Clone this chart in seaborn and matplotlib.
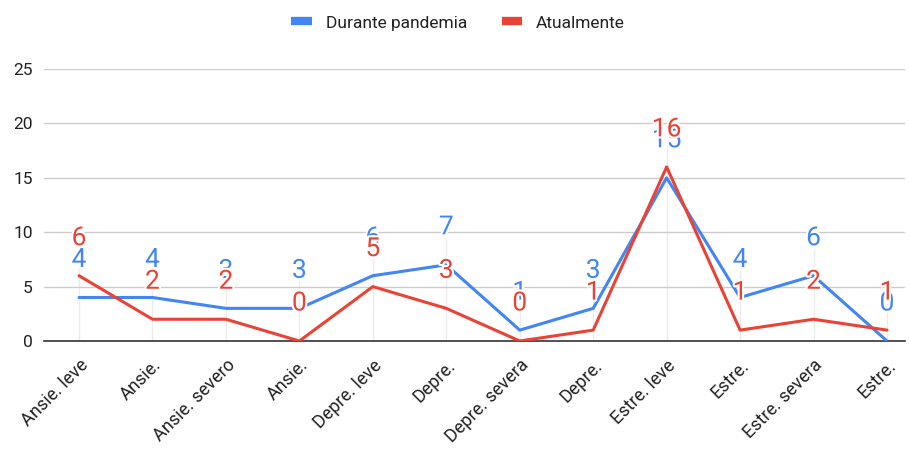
import matplotlib
matplotlib.use("Agg")
import matplotlib.pyplot as plt
import matplotlib.patheffects as pe
from matplotlib.lines import Line2D
import seaborn as sns
import pandas as pd

categorias = ["Ansie. leve", "Ansie.", "Ansie. severo", "Ansie.",
              "Depre. leve", "Depre.", "Depre. severa", "Depre.",
              "Estre. leve", "Estre.", "Estre. severa", "Estre."]
durante = [4, 4, 3, 3, 6, 7, 1, 3, 15, 4, 6, 0]
atual = [6, 2, 2, 0, 5, 3, 0, 1, 16, 1, 2, 1]
series = ["Durante pandemia", "Atualmente"]
cores = ["#4285F4", "#EA4335"]

sns.set_style("white")
plt.rcParams["font.family"] = ["Roboto", "DejaVu Sans"]

pos = list(range(len(categorias)))
df = pd.DataFrame({
    "pos": pos * 2,
    "valor": durante + atual,
    "serie": [series[0]] * len(pos) + [series[1]] * len(pos),
})

fig = plt.figure(figsize=(9.09, 4.53), dpi=100)
ax = fig.add_axes([44 / 909, 1 - 341 / 453, (905 - 44) / 909, (341 - 69) / 453])

# linhas guia claras
for p, a, b in zip(pos, durante, atual):
    ax.vlines(p, 0, max(a, b) + 2.5, color="#ececec", lw=1, zorder=0)

sns.lineplot(data=df, x="pos", y="valor", hue="serie", palette=cores,
             hue_order=series, linewidth=2.2, ax=ax, legend=False, zorder=3)

halo = [pe.withStroke(linewidth=3, foreground="white")]
for vals, cor in zip([durante, atual], cores):
    for p, v in zip(pos, vals):
        ax.annotate(str(v), (p, v), xytext=(0, 27), textcoords="offset points",
                    ha="center", va="center", fontsize=19, color=cor,
                    path_effects=halo, zorder=5)

ax.set_xlim(-0.477, 11.245)
ax.set_ylim(0, 25)
ax.set_yticks([0, 5, 10, 15, 20, 25])
ax.yaxis.grid(True, color="#cccccc", lw=1)
ax.set_axisbelow(True)
ax.set_xticks(pos)
ax.set_xticklabels(categorias, rotation=45, ha="right", rotation_mode="anchor",
                   fontsize=13, color="#222222")
ax.tick_params(axis="y", labelsize=12.5, labelcolor="#222222", length=0, pad=8)
ax.tick_params(axis="x", length=0, pad=11)
ax.set_xlabel("")
ax.set_ylabel("")
for s in ["top", "right", "left"]:
    ax.spines[s].set_visible(False)
ax.spines["bottom"].set_color("#333333")
ax.spines["bottom"].set_linewidth(1.2)

handles = [Line2D([0], [0], color=c, lw=6, solid_capstyle="butt") for c in cores]
fig.legend(handles, series, loc="center", bbox_to_anchor=(458 / 909, 1 - 23 / 453),
           ncol=2, frameon=False, fontsize=12.5, handlelength=1.2,
           columnspacing=2.0, handletextpad=0.8, labelcolor="#222222")

fig.savefig("out.png", dpi=100)
